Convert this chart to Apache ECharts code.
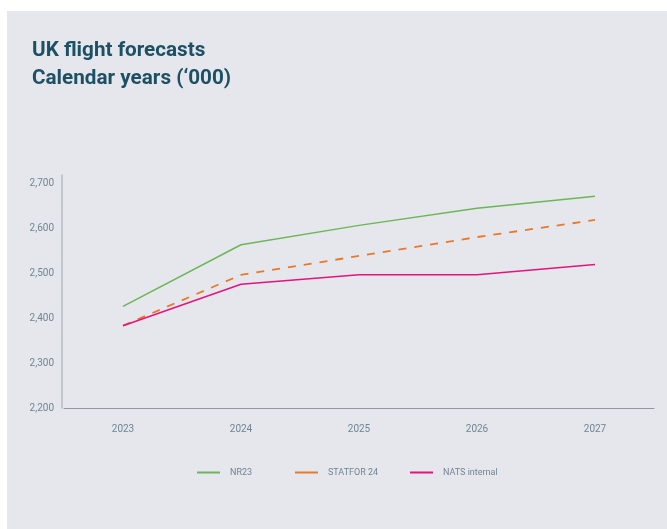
<!DOCTYPE html>
<html><head><meta charset="utf-8">
<script src="https://cdn.jsdelivr.net/npm/echarts@6/dist/echarts.min.js"></script>
<style>html,body{margin:0;padding:0;background:#fff;}#c{width:667px;height:529px;}</style>
</head><body><div id="c"></div>
<script>
var years = ['2023','2024','2025','2026','2027'];
var nr23 = [2426, 2563, 2606, 2644, 2671];
var statfor24 = [2383, 2496, 2538, 2580, 2618];
var natsInternal = [2383, 2475, 2496, 2496, 2519];
var seriesNames = ['NR23','STATFOR 24','NATS internal'];
var seriesColors = ['#6ab755', '#e8782a', '#e5137f'];
var legendLefts = [192, 290, 405];

var chart = echarts.init(document.getElementById('c'), null, {renderer:'canvas'});
var labelColor = '#6f8594';
var legends = seriesNames.map(function(n, i){
  return {
    data: [n],
    bottom: 52, left: legendLefts[i], itemWidth: 0, itemHeight: 2,
    icon: 'none', padding: 0,
    itemStyle: {opacity: 0}, lineStyle: {opacity: 0},
    formatter: function(name){ return '{bar|}{t|' + name + '}'; },
    textStyle: {color: labelColor, fontSize: 9, fontFamily: 'Roboto',
      rich: {
        bar: {width: 23, height: 2, backgroundColor: seriesColors[i]},
        t: {color: labelColor, fontSize: 9, fontFamily: 'Roboto', padding: [0,0,0,10]}
      }
    }
  };
});
chart.setOption({
  backgroundColor: '#fff',
  animation: false,
  graphic: [
    {type:'rect', shape:{x:7,y:11,width:660,height:518}, style:{fill:'#e6e7ec'}, z:-10},
    {type:'text', left:32, top:37, style:{text:'UK flight forecasts\nCalendar years (\u2018000)', font:'bold 20.7px Roboto', fill:'#1d5064', lineHeight:28}}
  ],
  grid: {left:64, right:13, top:175, bottom:121, containLabel:false},
  legend: legends,
  xAxis: {
    type:'category', data: years, boundaryGap: true,
    axisLine:{lineStyle:{color:'#8d9aa6', width:1}},
    axisTick:{show:false},
    axisLabel:{color:labelColor, fontSize:10, fontFamily:'Roboto', margin:16}
  },
  yAxis: {
    type:'value', min:2200, max:2718, interval:100, offset:2,
    axisLine:{show:true, lineStyle:{color:'#b3bcc5', width:1.5}},
    axisTick:{show:false},
    splitLine:{show:false},
    axisLabel:{color:labelColor, fontSize:10, fontFamily:'Roboto', margin:8, showMaxLabel:false,
      formatter:function(v){return v.toLocaleString('en-US');}}
  },
  series: [
    {name:'NR23', type:'line', data:nr23, showSymbol:false, symbol:'none', lineStyle:{color:seriesColors[0], width:1.5}, itemStyle:{color:seriesColors[0]}},
    {name:'STATFOR 24', type:'line', data:statfor24, showSymbol:false, symbol:'none', lineStyle:{color:seriesColors[1], width:1.8, type:[8,8]}, itemStyle:{color:seriesColors[1]}},
    {name:'NATS internal', type:'line', data:natsInternal, showSymbol:false, symbol:'none', lineStyle:{color:seriesColors[2], width:1.5}, itemStyle:{color:seriesColors[2]}}
  ]
});
</script></body></html>
